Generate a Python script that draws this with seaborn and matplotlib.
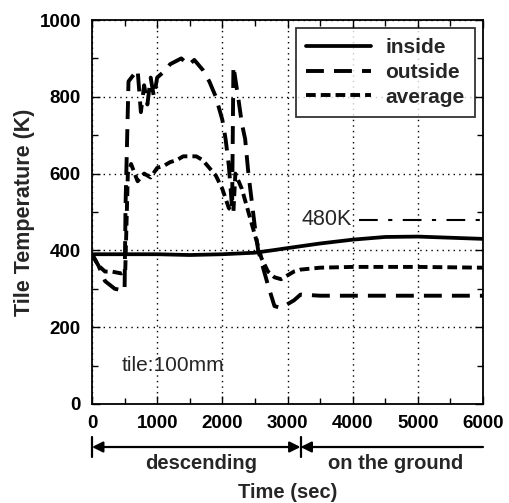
import numpy as np
import pandas as pd
import matplotlib
matplotlib.use("Agg")
import matplotlib.pyplot as plt
import seaborn as sns
from matplotlib.ticker import MultipleLocator

# ---- data ----
t_inside = [0, 500, 1000, 1500, 2000, 2500, 2800, 3000, 3500, 4000, 4500, 5000, 5500, 6000]
v_inside = [390, 390, 390, 388, 390, 394, 401, 406, 418, 428, 435, 436, 433, 430]

t_outside = [0, 100, 200, 350, 500, 515, 560, 650, 700, 750, 800, 850, 900, 950, 1000,
             1100, 1200, 1370, 1480, 1570, 1700, 1800, 1900, 2000, 2050, 2100, 2150,
             2170, 2250, 2300, 2350, 2400, 2450, 2500, 2550, 2600, 2700, 2800, 2900,
             3000, 3100, 3200, 3500, 4000, 5000, 6000]
v_outside = [390, 360, 320, 300, 295, 520, 840, 860, 870, 760, 830, 780, 850, 800, 850,
             865, 885, 900, 883, 896, 870, 840, 800, 740, 690, 620, 510,
             880, 790, 730, 690, 600, 530, 460, 400, 370, 310, 255, 250,
             260, 270, 285, 282, 282, 282, 282]

t_average = [0, 100, 200, 300, 450, 510, 550, 600, 700, 800, 900, 1000, 1100, 1200, 1300,
             1400, 1500, 1600, 1700, 1800, 1900, 2000, 2100, 2170, 2200, 2300, 2400,
             2500, 2600, 2700, 2800, 2900, 3000, 3100, 3200, 3500, 4000, 5000, 6000]
v_average = [390, 360, 345, 345, 340, 345, 600, 625, 580, 600, 590, 615, 620, 630, 635,
             645, 645, 645, 635, 615, 595, 560, 510, 500, 600, 560, 500,
             440, 380, 345, 330, 325, 335, 345, 350, 355, 357, 357, 355]

series_names = ["inside", "outside", "average"]
ref_level = 480
ref_t = [4090, 6000]
x_ticks = [0, 1000, 2000, 3000, 4000, 5000, 6000]
y_ticks = [0, 200, 400, 600, 800, 1000]
phase_bounds = [0, 3200, 6000]
phase_labels = ["descending", "on the ground"]

# ---- figure ----
sns.set_style("ticks")
plt.rcParams["font.family"] = ["Liberation Sans", "DejaVu Sans"]

fig = plt.figure(figsize=(5.09, 5.03), dpi=100)
ax = fig.add_axes([92 / 509, (503 - 404) / 503, 391 / 509, 384 / 503])

sns.lineplot(x=t_inside, y=v_inside, ax=ax, color="black", lw=2.7,
             label=series_names[0])
sns.lineplot(x=t_outside, y=v_outside, ax=ax, color="black", lw=2.8,
             label=series_names[1])
sns.lineplot(x=t_average, y=v_average, ax=ax, color="black", lw=2.8,
             label=series_names[2])
lines = ax.get_lines()
lines[1].set_dashes((4.6, 2.6))
lines[2].set_dashes((2.5, 1.3))

# 480K reference line
ax.plot(ref_t, [ref_level, ref_level], color="black", lw=1.5,
        dashes=(9, 5, 2, 5))
ax.text(3220, ref_level, "480K", fontsize=15.5, va="center", ha="left")
ax.text(458, 101, "tile:100mm", fontsize=15, va="center", ha="left")

ax.set_xlim(0, 6000)
ax.set_ylim(0, 1000)
ax.set_xticks(x_ticks)
ax.set_yticks(y_ticks)
ax.xaxis.set_minor_locator(MultipleLocator(500))
ax.yaxis.set_minor_locator(MultipleLocator(100))
ax.tick_params(which="both", direction="in", top=True, right=True,
               colors="black", width=1)
ax.tick_params(which="major", length=6, labelsize=13.5)
ax.tick_params(axis="x", which="major", pad=8)
ax.tick_params(axis="y", which="major", pad=8)
ax.tick_params(which="minor", length=4)
for lab in ax.get_xticklabels() + ax.get_yticklabels():
    lab.set_fontweight("bold")
ax.grid(True, which="major", color="black", linestyle=(0, (1, 3)), lw=1)
for s in ax.spines.values():
    s.set_color("black")
    s.set_linewidth(1.3)

ax.set_ylabel("Tile Temperature (K)", fontsize=15.5, fontweight="bold")
ax.yaxis.set_label_coords(-0.145, 0.5)
ax.set_xlabel("Time (sec)", fontsize=14.5, fontweight="bold")
ax.xaxis.set_label_coords(0.5, -0.207)

leg = ax.legend(loc="upper right", bbox_to_anchor=(0.98, 0.98), borderaxespad=0,
                fancybox=False, frameon=True, edgecolor="black", handlelength=3.1,
                handletextpad=0.7, prop={"weight": "bold", "size": 15},
                labelspacing=0.28, borderpad=0.5)
leg.get_frame().set_linewidth(1.3)

# phase arrows below the axis
trans = ax.get_xaxis_transform()
ya = -0.112
for b in phase_bounds[:2]:
    ax.plot([b, b], [-0.085, -0.138], transform=trans, color="black", lw=1.6,
            clip_on=False)
ax.annotate("", xy=(phase_bounds[0], ya), xytext=(phase_bounds[1], ya),
            xycoords=trans, textcoords=trans,
            arrowprops=dict(arrowstyle="<|-|>", color="black", lw=1.6,
                            shrinkA=0, shrinkB=0, mutation_scale=16))
ax.annotate("", xy=(phase_bounds[1], ya), xytext=(phase_bounds[2], ya),
            xycoords=trans, textcoords=trans,
            arrowprops=dict(arrowstyle="-|>", color="black", lw=1.6,
                            shrinkA=0, shrinkB=0, mutation_scale=16))
ax.text(1680, -0.154, phase_labels[0], transform=trans, ha="center", va="center",
        fontsize=14.5, fontweight="bold")
ax.text(4660, -0.154, phase_labels[1], transform=trans, ha="center", va="center",
        fontsize=14.5, fontweight="bold")

fig.savefig("out.png", dpi=100)
